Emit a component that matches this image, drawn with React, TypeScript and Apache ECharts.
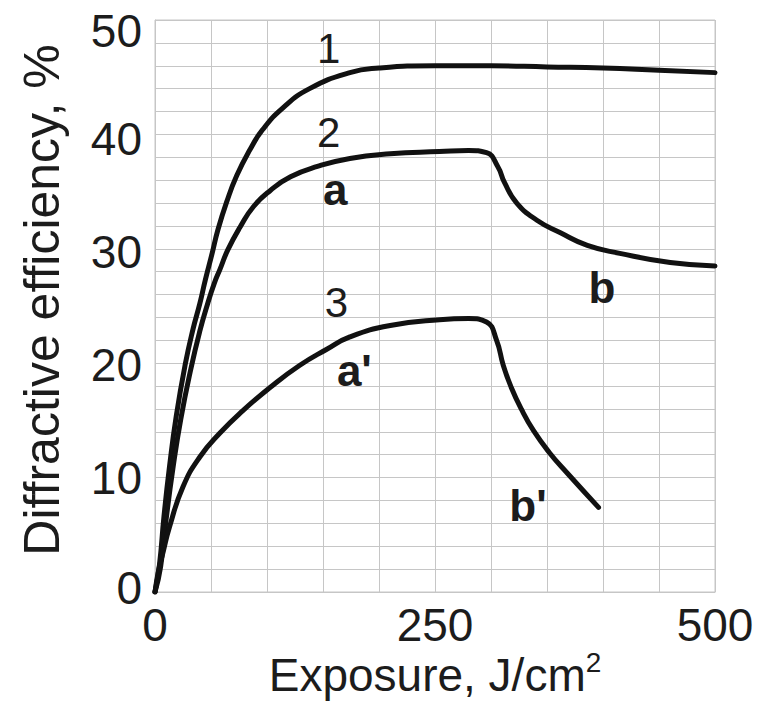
import React, { useEffect, useRef } from "react";
import * as echarts from "echarts";

// Exposure (J/cm²) vs diffractive efficiency (%)
const curve1: [number, number][] = [
  [0, 0], [4, 2.4], [8, 6.6], [13, 11], [19, 15.4], [27, 19.9], [34, 23], [40, 25.2],
  [45, 27.3], [51, 29.6], [56, 31.6], [64, 34.1], [73, 36.4], [85, 38.7], [96, 40.4],
  [114, 42.3], [138, 44.0], [174, 45.4], [200, 45.8], [250, 46.0], [300, 46.0],
  [350, 45.9], [400, 45.8], [450, 45.6], [500, 45.4],
];
const curve2: [number, number][] = [
  [0, 0], [5, 2.2], [10, 6.4], [16, 10.8], [23, 15.1], [32, 19.5], [40, 22.8], [47, 25.2],
  [53, 27], [58, 28.2], [65, 29.9], [76, 31.9], [88, 33.7], [103, 35.1], [121, 36.3],
  [145, 37.2], [174, 37.9], [210, 38.3], [254, 38.5], [280, 38.6], [296, 38.4],
  [306, 37.2], [312, 35.8], [323, 34.0], [341, 32.5], [362, 31.4], [386, 30.3],
  [415, 29.6], [460, 28.8], [500, 28.5],
];
const curve3: [number, number][] = [
  [0, 0], [3, 1.8], [7, 3.4], [13, 5.7], [25, 9.2], [40, 11.8], [58, 13.9], [79, 15.9],
  [103, 17.9], [129, 19.8], [153, 21.2], [174, 22.3], [210, 23.3], [254, 23.8],
  [280, 23.9], [296, 23.6], [305, 22.0], [311, 19.8], [318, 17.9], [327, 16.0],
  [338, 14.1], [352, 12.2], [368, 10.4], [396, 7.4],
];

// Curve annotations: [exposure, efficiency, text, bold]
const annotations: [number, number, string, boolean][] = [
  [155, 47.5, "1", false],
  [155, 40.2, "2", false],
  [161, 35.2, "a", true],
  [162, 25.3, "3", false],
  [178, 19.4, "a'", true],
  [399, 26.6, "b", true],
  [333, 7.6, "b'", true],
];

const xTicks = { min: 0, max: 500, interval: 250, minorSplit: 5 };
const yTicks = { min: 0, max: 50, interval: 10, minorSplit: 5 };
// vertical nudge (px, + = down) of each y tick label as printed in the figure
const yLabelShift: Record<number, number> = { 0: -4, 10: 0, 20: 2, 30: 3, 40: 5, 50: 11 };

const FONT = "'Liberation Sans', Arial, sans-serif";
const GRID_COLOR = "#c6c6c6";
const TEXT_COLOR = "#1c1c1c";

export default function App() {
  const ref = useRef<HTMLDivElement>(null);
  useEffect(() => {
    if (!ref.current) return;
    const chart = echarts.init(ref.current, undefined, { renderer: "svg" });
    const lineSeries = (name: string, data: [number, number][]) => ({
      name,
      type: "line",
      data,
      smooth: 0.5,
      showSymbol: false,
      symbol: "none",
      lineStyle: { color: "#111", width: 5, cap: "round", join: "round" },
      z: 3,
    });
    const yRich: Record<string, any> = {};
    Object.keys(yLabelShift).forEach((k) => {
      const s = yLabelShift[Number(k)];
      yRich["t" + k] = {
        fontSize: 46,
        fontFamily: FONT,
        color: TEXT_COLOR,
        padding: s >= 0 ? [2 * s, 0, 0, 0] : [0, 0, -2 * s, 0],
      };
    });
    chart.setOption({
      animation: false,
      backgroundColor: "#fff",
      textStyle: { fontFamily: FONT },
      grid: {
        left: 155, top: 20, right: 59, bottom: 115,
        show: true, borderColor: GRID_COLOR, borderWidth: 1,
      },
      xAxis: {
        type: "value",
        min: xTicks.min, max: xTicks.max, interval: xTicks.interval,
        name: "Exposure, J/cm{sup|2}",
        nameLocation: "middle",
        nameGap: 56,
        nameMoveOverlap: false,
        nameTextStyle: {
          fontSize: 46, color: TEXT_COLOR, fontFamily: FONT,
          rich: { sup: { fontSize: 28, fontFamily: FONT, color: TEXT_COLOR, padding: [0, 0, 26, 0] } },
        },
        axisLine: { show: true, lineStyle: { color: GRID_COLOR, width: 1 } },
        axisTick: { show: false },
        minorTick: { show: false, splitNumber: xTicks.minorSplit },
        splitLine: { show: true, lineStyle: { color: GRID_COLOR, width: 1 } },
        minorSplitLine: { show: true, lineStyle: { color: GRID_COLOR, width: 1 } },
        axisLabel: { fontSize: 46, color: TEXT_COLOR, margin: 10, fontFamily: FONT },
      },
      yAxis: {
        type: "value",
        min: yTicks.min, max: yTicks.max, interval: yTicks.interval,
        name: "Diffractive efficiency, %",
        nameLocation: "middle",
        nameGap: 88,
        nameMoveOverlap: false,
        nameTextStyle: { fontSize: 50, color: TEXT_COLOR, fontFamily: FONT, padding: [0, 0, 0, 12] },
        axisLine: { show: true, lineStyle: { color: GRID_COLOR, width: 1 } },
        axisTick: { show: false },
        minorTick: { show: false, splitNumber: yTicks.minorSplit },
        splitLine: { show: true, lineStyle: { color: GRID_COLOR, width: 1 } },
        minorSplitLine: { show: true, lineStyle: { color: GRID_COLOR, width: 1 } },
        axisLabel: {
          fontSize: 46, color: TEXT_COLOR, margin: 13, fontFamily: FONT,
          formatter: (v: number) => `{t${v}|${v}}`,
          rich: yRich,
        },
      },
      series: [
        lineSeries("1", curve1),
        lineSeries("2", curve2),
        lineSeries("3", curve3),
        {
          name: "labels",
          type: "scatter",
          symbolSize: 0,
          z: 4,
          itemStyle: { opacity: 1 },
          data: annotations.map(([x, y, t, b]) => ({
            value: [x, y],
            name: t,
            label: {
              show: true,
              position: "inside",
              formatter: "{b}",
              fontSize: b ? 44 : 42,
              fontWeight: b ? "bold" : "normal",
              color: TEXT_COLOR,
              opacity: 1,
              fontFamily: FONT,
            },
          })),
        },
      ],
    });
    return () => chart.dispose();
  }, []);
  return (
    <div
      ref={ref}
      style={{ position: "fixed", left: 0, top: 0, width: 774, height: 707, background: "#fff" }}
    />
  );
}
